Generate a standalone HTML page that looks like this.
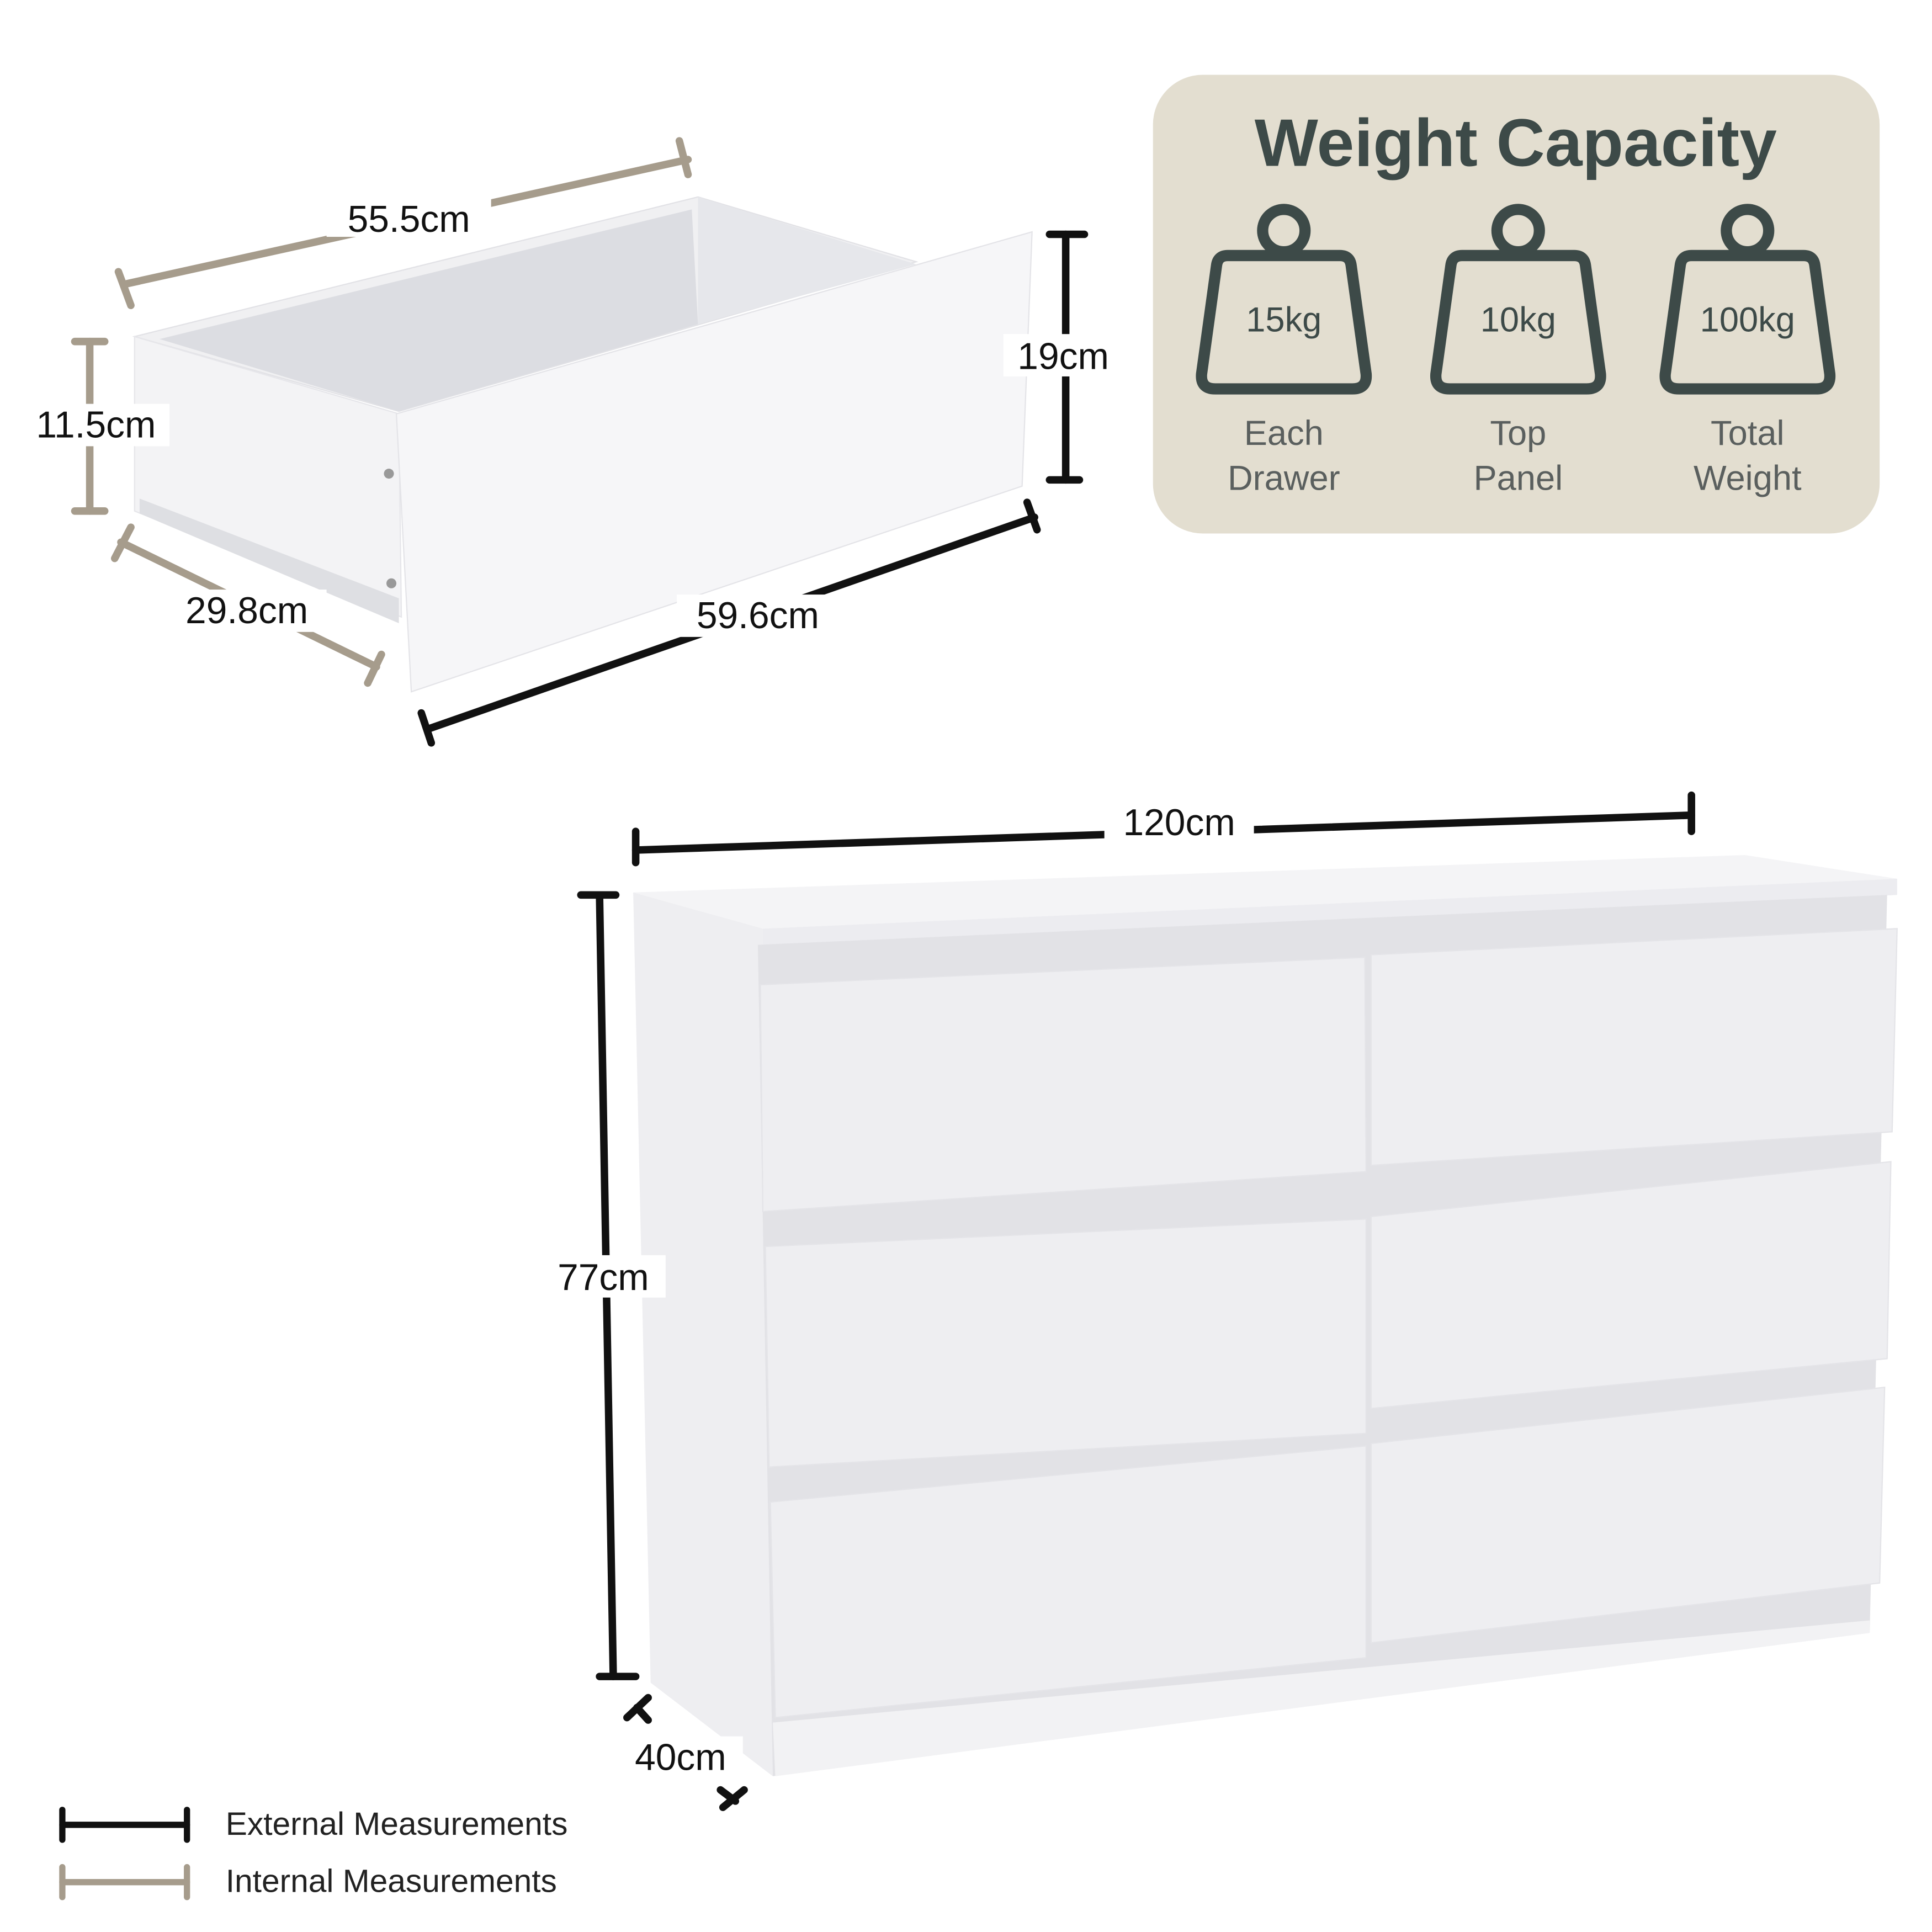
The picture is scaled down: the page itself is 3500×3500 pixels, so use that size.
<!DOCTYPE html>
<html><head><meta charset="utf-8"><style>
html,body{margin:0;padding:0;background:#fff}
svg{display:block}
text{font-family:"Liberation Sans",sans-serif}
</style></head><body>
<svg width="3500" height="3500" viewBox="0 0 1550 1550" xmlns="http://www.w3.org/2000/svg">
<rect width="1550" height="1550" fill="#fff"/>

<!-- Weight card -->
<rect x="925" y="60" width="583" height="368" rx="40" fill="#e3ded0"/>
<text x="1216" y="133" font-size="54" font-weight="bold" fill="#3d4a48" text-anchor="middle">Weight Capacity</text>
<g fill="none" stroke="#3d4a48" stroke-width="9" stroke-linejoin="round">
 <circle cx="1030" cy="185" r="17"/>
 <path d="M985 205 H1075 Q1083 205 1084 213 L1096 300 Q1097 312 1085 312 H975 Q963 312 964 300 L976 213 Q977 205 985 205 Z"/>
 <circle cx="1218" cy="185" r="17"/>
 <path d="M1173 205 H1263 Q1271 205 1272 213 L1284 300 Q1285 312 1273 312 H1163 Q1151 312 1152 300 L1164 213 Q1165 205 1173 205 Z"/>
 <circle cx="1402" cy="185" r="17"/>
 <path d="M1357 205 H1447 Q1455 205 1456 213 L1468 300 Q1469 312 1457 312 H1347 Q1335 312 1336 300 L1348 213 Q1349 205 1357 205 Z"/>
</g>
<g font-size="28" fill="#3d4a48" text-anchor="middle">
 <text x="1030" y="266">15kg</text><text x="1218" y="266">10kg</text><text x="1402" y="266">100kg</text>
</g>
<g font-size="28" fill="#5a5f5e" text-anchor="middle">
 <text x="1030" y="357">Each</text><text x="1030" y="393">Drawer</text>
 <text x="1218" y="357">Top</text><text x="1218" y="393">Panel</text>
 <text x="1402" y="357">Total</text><text x="1402" y="393">Weight</text>
</g>

<!-- Drawer -->
<polygon points="108,270 560,158 735,210 320,330" fill="#f0f0f2" stroke="#e2e2e6"/>
<polygon points="128,272 555,168 560,260 320,330" fill="#dcdde2"/>
<polygon points="560,158 560,260 735,212" fill="#e6e7eb"/>
<polygon points="108,270 320,332 322,495 108,410" fill="#f3f3f5" stroke="#e6e6ea"/>
<polygon points="112,400 320,480 320,500 112,412" fill="#dedfe3"/>
<polygon points="318,332 828,186 820,390 330,555" fill="#f6f6f8" stroke="#e4e4e8"/>
<circle cx="312" cy="380" r="4" fill="#999"/><circle cx="314" cy="468" r="4" fill="#999"/>

<g stroke="#a69c8c" stroke-width="6" stroke-linecap="round">
 <line x1="100" y1="228" x2="552" y2="128"/><line x1="95" y1="218" x2="105" y2="245"/><line x1="545" y1="113" x2="552" y2="140"/>
 <line x1="72" y1="274" x2="72" y2="410"/><line x1="60" y1="274" x2="84" y2="274"/><line x1="60" y1="410" x2="84" y2="410"/>
 <line x1="97" y1="435" x2="302" y2="535"/><line x1="92" y1="448" x2="105" y2="423"/><line x1="295" y1="548" x2="306" y2="525"/>
</g>
<g stroke="#111" stroke-width="6" stroke-linecap="round">
 <line x1="343" y1="585" x2="830" y2="415"/><line x1="338" y1="572" x2="346" y2="596"/><line x1="824" y1="403" x2="832" y2="425"/>
 <line x1="855" y1="188" x2="855" y2="385"/><line x1="842" y1="188" x2="870" y2="188"/><line x1="842" y1="385" x2="866" y2="385"/>
</g>
<g font-size="30" fill="#111" text-anchor="middle">
 <rect x="262" y="158" width="132" height="32" fill="#fff"/><text x="328" y="186">55.5cm</text>
 <rect x="18" y="324" width="118" height="34" fill="#fff"/><text x="77" y="351">11.5cm</text>
 <rect x="134" y="473" width="128" height="34" fill="#fff"/><text x="198" y="500">29.8cm</text>
 <rect x="543" y="477" width="130" height="34" fill="#fff"/><text x="608" y="504">59.6cm</text>
 <rect x="805" y="268" width="92" height="34" fill="#fff"/><text x="853" y="296">19cm</text>
</g>

<!-- Dresser -->
<polygon points="508,716 1400,686 1522,705 612,745" fill="#f4f4f6"/>
<polygon points="612,745 1522,705 1522,718 612,758" fill="#ececf0"/>
<polygon points="508,716 612,745 620,1425 522,1350" fill="#eeeef1"/>
<polygon points="608,758 1514,718 1500,1310 620,1425" fill="#e2e2e6"/>
<g fill="#eeeef1" stroke="#e4e4e8">
 <polygon points="610,790 1095,768 1096,940 612,972"/>
 <polygon points="1100,766 1522,745 1518,908 1100,935"/>
 <polygon points="614,1000 1096,978 1096,1150 617,1177"/>
 <polygon points="1100,976 1517,932 1514,1090 1100,1130"/>
 <polygon points="618,1205 1096,1160 1096,1330 622,1378"/>
 <polygon points="1100,1158 1512,1113 1508,1270 1100,1318"/>
</g>
<polygon points="620,1382 1500,1300 1500,1310 622,1425" fill="#f2f2f4"/>

<g stroke="#111" stroke-width="6" stroke-linecap="round">
 <line x1="510" y1="682" x2="1357" y2="654"/><line x1="510" y1="667" x2="510" y2="692"/><line x1="1357" y1="638" x2="1357" y2="667"/>
 <line x1="481" y1="718" x2="492" y2="1345"/><line x1="466" y1="718" x2="494" y2="718"/><line x1="481" y1="1345" x2="510" y2="1345"/>
 <polyline points="503,1378 520,1362" fill="none"/><line x1="511" y1="1370" x2="520" y2="1380"/>
 <polyline points="580,1450 597,1436" fill="none"/><line x1="578" y1="1436" x2="590" y2="1445"/>
</g>
<g font-size="30" fill="#111" text-anchor="middle">
 <rect x="886" y="643" width="120" height="34" fill="#fff"/><text x="946" y="670">120cm</text>
 <rect x="436" y="1007" width="98" height="34" fill="#fff"/><text x="484" y="1035">77cm</text>
 <rect x="496" y="1393" width="100" height="34" fill="#fff"/><text x="546" y="1420">40cm</text>
</g>

<!-- Legend -->
<g stroke-width="5" stroke-linecap="round">
 <g stroke="#111"><line x1="50" y1="1464" x2="150" y2="1464"/><line x1="50" y1="1452" x2="50" y2="1476"/><line x1="150" y1="1452" x2="150" y2="1476"/></g>
 <g stroke="#a69c8c"><line x1="50" y1="1510" x2="150" y2="1510"/><line x1="50" y1="1498" x2="50" y2="1522"/><line x1="150" y1="1498" x2="150" y2="1522"/></g>
</g>
<text x="181" y="1472" font-size="26" fill="#222">External Measurements</text>
<text x="181" y="1518" font-size="26" fill="#222">Internal Measurements</text>
</svg>
</body></html>
